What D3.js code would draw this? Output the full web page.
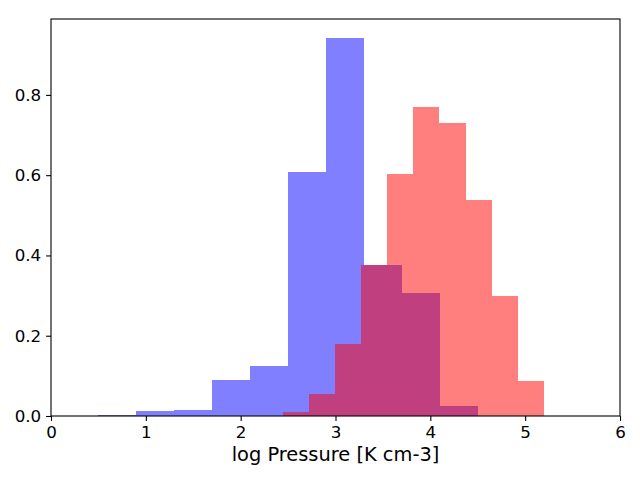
<!DOCTYPE html>
<html>
<head>
<meta charset="utf-8">
<script src="https://cdn.jsdelivr.net/npm/d3@7"></script>
<style>
  body { margin: 0; background: #fff; }
  svg { display: block; font-family: "DejaVu Sans", sans-serif; }
</style>
</head>
<body>
<svg id="chart" width="640" height="480"></svg>
<script>
// histogram bins (density)
const blueEdges = [0.5, 0.9, 1.3, 1.7, 2.1, 2.5, 2.9, 3.3, 3.7, 4.1, 4.5];
const blueValues = [0.0025, 0.012, 0.015, 0.089, 0.124, 0.609, 0.942, 0.377, 0.306, 0.025];
const redEdges = [2.443, 2.719, 2.994, 3.270, 3.545, 3.821, 4.096, 4.372, 4.648, 4.923, 5.199];
const redValues = [0.010, 0.055, 0.179, 0.375, 0.604, 0.770, 0.730, 0.537, 0.298, 0.088];
const xTicks = [0, 1, 2, 3, 4, 5, 6];
const yTicks = [0.0, 0.2, 0.4, 0.6, 0.8];
const xLabel = "log Pressure [K cm-3]";

const svg = d3.select("#chart");
const plotLeft = 51, plotRight = 620, plotTop = 19, plotBottom = 416;

const x = d3.scaleLinear().domain([0, 6]).range([plotLeft, plotRight]);
const y = d3.scaleLinear().domain([0, 0.942 * 1.05]).range([plotBottom, plotTop]);

// turn edges + values into bins
function bins(edges, values) {
  return values.map((v, i) => ({ x0: edges[i], x1: edges[i + 1], v: v }));
}

function drawHist(data, color) {
  svg.append("g")
    .selectAll("rect")
    .data(data)
    .join("rect")
    .attr("x", d => x(d.x0))
    .attr("width", d => x(d.x1) - x(d.x0))
    .attr("y", d => y(d.v))
    .attr("height", d => y(0) - y(d.v))
    .attr("fill", color)
    .attr("fill-opacity", 0.5)
    .attr("shape-rendering", "crispEdges");
}

drawHist(bins(blueEdges, blueValues), "#0000ff");
drawHist(bins(redEdges, redValues), "#ff0000");

// axes
const xAxis = d3.axisBottom(x).tickValues(xTicks).tickFormat(d3.format("d"))
  .tickSizeInner(4.9).tickSizeOuter(0).tickPadding(4.9);
const yAxis = d3.axisLeft(y).tickValues(yTicks).tickFormat(d3.format(".1f"))
  .tickSizeInner(4.9).tickSizeOuter(0).tickPadding(4.9);

const gx = svg.append("g").attr("transform", `translate(0,${plotBottom})`).call(xAxis);
const gy = svg.append("g").attr("transform", `translate(${plotLeft},0)`).call(yAxis);

[gx, gy].forEach(g => {
  g.select(".domain").remove();
  g.selectAll(".tick line").attr("stroke", "#000").attr("stroke-width", 1.1);
  g.selectAll(".tick text").attr("fill", "#000")
    .style("font-family", "DejaVu Sans").style("font-size", "16.7px");
});

// frame
svg.append("rect")
  .attr("x", plotLeft).attr("y", plotTop)
  .attr("width", plotRight - plotLeft).attr("height", plotBottom - plotTop)
  .attr("fill", "none").attr("stroke", "#000").attr("stroke-width", 1.1);

svg.append("text")
  .attr("x", (plotLeft + plotRight) / 2)
  .attr("y", 461)
  .attr("text-anchor", "middle")
  .style("font-size", "19.4px")
  .attr("fill", "#000")
  .text(xLabel);
</script>
</body>
</html>
